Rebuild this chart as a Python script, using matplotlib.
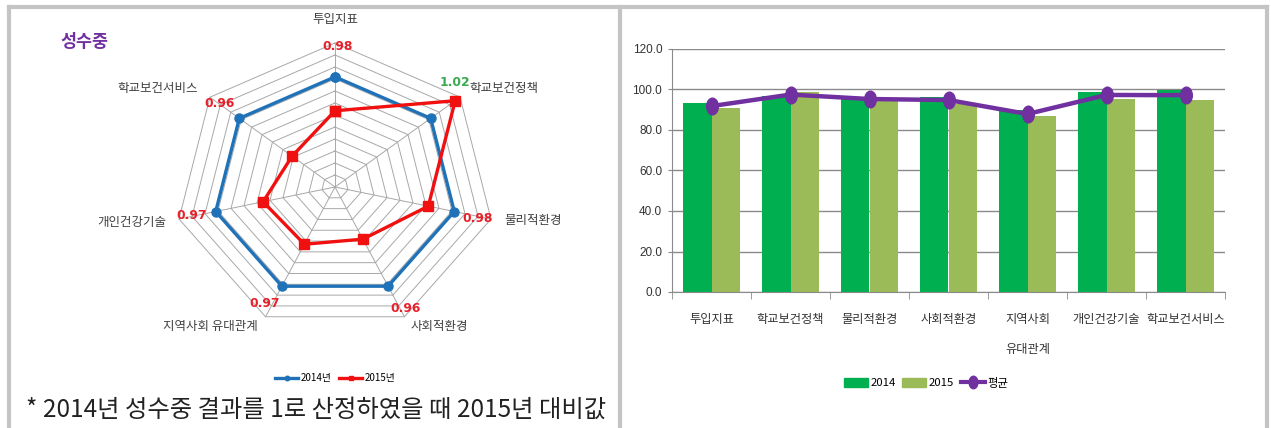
import numpy as np
import matplotlib
matplotlib.use("Agg")
import matplotlib.pyplot as plt
from matplotlib.lines import Line2D
from matplotlib.patches import Patch
from matplotlib.path import Path
from matplotlib.transforms import Affine2D

plt.rcParams["font.family"] = ["Noto Sans CJK KR", "DejaVu Sans"]

# ── Data ──────────────────────────────────────────────────────────────────
categories   = ["투입지표", "학교보건정책", "물리적환경", "사회적환경",
                "지역사회 유대관계", "개인건강기술", "학교보건서비스"]
bar_labels   = ["투입지표", "학교보건정책", "물리적환경", "사회적환경",
                "지역사회\n유대관계", "개인건강기술", "학교보건서비스"]
ratio_2014   = [1.0, 1.0, 1.0, 1.0, 1.0, 1.0, 1.0]
ratio_2015   = [0.976, 1.020, 0.983, 0.963, 0.967, 0.969, 0.957]
ratio_labels = ["0.98", "1.02", "0.98", "0.96", "0.97", "0.97", "0.96"]
score_2014   = [93.3, 96.8, 96.2, 96.4, 89.8, 98.7, 99.6]
score_2015   = [90.8, 98.7, 94.5, 92.8, 87.0, 95.3, 94.9]
score_avg    = [91.8, 97.5, 95.3, 94.8, 87.9, 97.3, 97.2]
y_ticks      = [0, 20, 40, 60, 80, 100, 120]

# ── Layout helpers (pixels from top-left) ─────────────────────────────────
W, H = 1271, 428
def fx(x): return x / W
def fy(y): return 1 - y / H

fig = plt.figure(figsize=(W / 100, H / 100), dpi=100)
fig.patch.set_facecolor("white")

# panel borders
border = "#C4C4C4"
for xs, ys in [([9, 1267], [7, 7]), ([9, 9], [7, 428]),
               ([619.5, 619.5], [7, 428]), ([1267, 1267], [7, 428])]:
    fig.add_artist(Line2D([fx(x) for x in xs], [fy(y) for y in ys],
                          transform=fig.transFigure, color=border, lw=3))

# ── Radar (left) ──────────────────────────────────────────────────────────
RMIN, RMAX, NRING = 0.922, 1.024, 12
cx, cy, RX, RY = 335, 187, 160, 144
xa, yb0, yb1 = 1.7, -1.6, 1.3
rax = fig.add_axes([fx(cx - xa * RX), fy(cy - yb0 * RY),
                    2 * xa * RX / W, (yb1 - yb0) * RY / H])
rax.set_xlim(-xa, xa); rax.set_ylim(yb0, yb1)
rax.axis("off")

n = len(categories)
ang = np.pi / 2 - 2 * np.pi * np.arange(n) / n
ca, sa = np.cos(ang), np.sin(ang)

def rscale(v):
    return (np.asarray(v) - RMIN) / (RMAX - RMIN)

for k in range(1, NRING + 1):
    r = k / NRING
    rax.plot(np.r_[ca, ca[0]] * r, np.r_[sa, sa[0]] * r,
             color="#A8A8A8", lw=0.7, zorder=1)
for i in range(n):
    rax.plot([0, ca[i]], [0, sa[i]], color="#A8A8A8", lw=0.7, zorder=1)

r14, r15 = rscale(ratio_2014), rscale(ratio_2015)
rax.plot(np.r_[ca * r14, ca[0] * r14[0]], np.r_[sa * r14, sa[0] * r14[0]],
         color="#1F72B8", lw=2.4, marker="o", ms=6.5, zorder=3, label="2014년")
rax.plot(np.r_[ca * r15, ca[0] * r15[0]], np.r_[sa * r15, sa[0] * r15[0]],
         color="#F01010", lw=2.4, marker="s", ms=6.5, zorder=4, label="2015년")

cat_off = [(0, 24, "center"), (9, 9, "left"), (13, -1, "left"),
           (6, -10, "left"), (-8, -10, "right"), (-13, -3, "right"),
           (-12, 9, "right")]
val_off = [(3, -3), (-5, 15), (-13, 1), (1, 8), (-1, 13), (13, 4), (10, -6)]
for i in range(n):
    dx, dy, ha = cat_off[i]
    rax.annotate(categories[i], (ca[i], sa[i]), xytext=(dx, dy),
                 textcoords="offset pixels", ha=ha, va="center",
                 fontsize=9, color="#404040")
    vdx, vdy = val_off[i]
    col = "#3AAA4E" if ratio_2015[i] > ratio_2014[i] else "#E8202A"
    rax.annotate(ratio_labels[i], (ca[i], sa[i]), xytext=(vdx, vdy),
                 textcoords="offset pixels", ha="center", va="center",
                 fontsize=8.8, fontweight="bold", color=col,
                 family=["DejaVu Sans"])

rax.legend(loc="center", bbox_to_anchor=(fx(335), fy(378)),
           bbox_transform=fig.transFigure, ncol=2, frameon=False,
           fontsize=7, handlelength=2.4, columnspacing=0.8,
           handletextpad=0.2, markerscale=0.5)

fig.text(fx(60), fy(42), "성수중", color="#7030A0", fontsize=12.5,
         fontweight="bold", ha="left", va="center")
fig.text(fx(26), fy(410), "* 2014년 성수중 결과를 1로 산정하였을 때 2015년 대비값",
         fontsize=17.5, color="#222222", ha="left", va="center")

# ── Bar chart (right) ─────────────────────────────────────────────────────
bax = fig.add_axes([fx(672), fy(292), (1225 - 672) / W, (292 - 49) / H])
x = np.arange(n)
bw = 0.36
bax.bar(x - bw / 2, score_2014, bw, color="#00B050", zorder=2, label="2014")
bax.bar(x + bw / 2, score_2015, bw, color="#9BBB59", zorder=2, label="2015")
ell = Path.unit_circle().transformed(Affine2D().scale(0.7, 1.0))
bax.plot(x, score_avg, color="#7030A0", lw=3.2, marker=ell, ms=12,
         zorder=3, label="평균")

bax.set_xlim(-0.5, n - 0.5)
bax.set_ylim(0, 120)
bax.set_yticks(y_ticks)
bax.set_yticklabels([f"{v:.1f}" for v in y_ticks], fontsize=8.5,
                    family=["Liberation Sans Narrow", "Liberation Sans"])
bax.yaxis.grid(True, color="#8A8A8A", lw=1.0, zorder=0)
bax.set_axisbelow(True)
bax.set_xticks(x)
bax.set_xticklabels(bar_labels, fontsize=8.8, linespacing=2.7, va="top")
bax.set_xticks(np.arange(n + 1) - 0.5, minor=True)
bax.tick_params(axis="x", which="major", length=0, pad=15, colors="#333333")
bax.tick_params(axis="x", which="minor", length=5, color="#8A8A8A")
bax.tick_params(axis="y", length=3, pad=4, color="#8A8A8A", labelcolor="#333333")
for s in ["top", "right"]:
    bax.spines[s].set_visible(False)
for s in ["left", "bottom"]:
    bax.spines[s].set_color("#8A8A8A")

handles = [Patch(color="#00B050"), Patch(color="#9BBB59"),
           Line2D([], [], color="#7030A0", lw=3, marker=ell, ms=9)]
fig.legend(handles, ["2014", "2015", "평균"], loc="center",
           bbox_to_anchor=(fx(926), fy(383)), ncol=3, frameon=False,
           fontsize=8.2, handlelength=2.1, handleheight=0.9,
           columnspacing=0.6, handletextpad=0.2)

fig.savefig("out.png", dpi=100)
